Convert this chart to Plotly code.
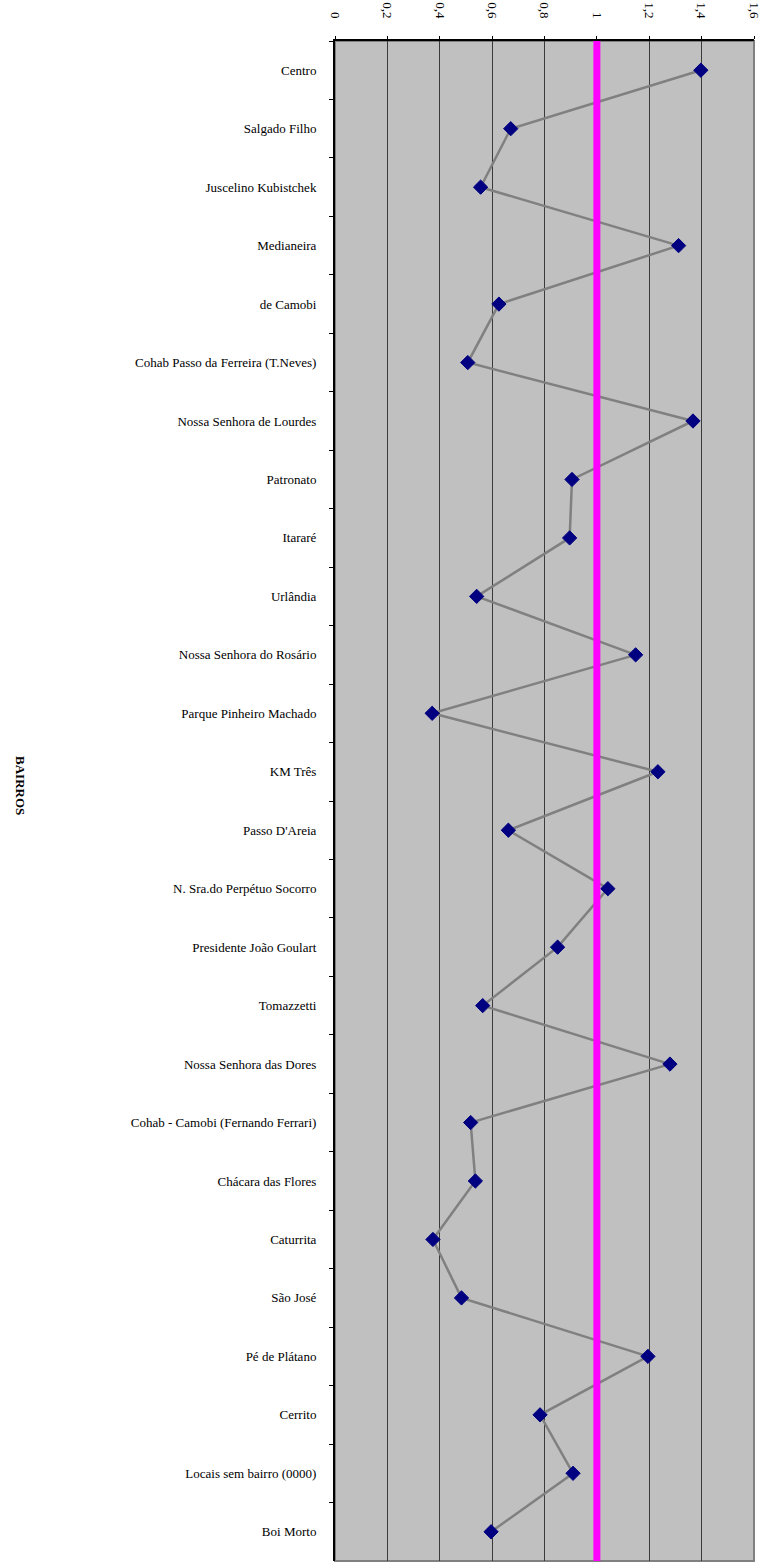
import plotly.graph_objects as go

# Neighbourhoods (bairros) in display order, top to bottom
bairros = [
    "Centro", "Salgado Filho", "Juscelino Kubistchek", "Medianeira", "de Camobi",
    "Cohab Passo da Ferreira (T.Neves)", "Nossa Senhora de Lourdes", "Patronato",
    "Itararé", "Urlândia", "Nossa Senhora do Rosário", "Parque Pinheiro Machado",
    "KM Três", "Passo D'Areia", "N. Sra.do Perpétuo Socorro", "Presidente João Goulart",
    "Tomazzetti", "Nossa Senhora das Dores", "Cohab - Camobi (Fernando Ferrari)",
    "Chácara das Flores", "Caturrita", "São José", "Pé de Plátano", "Cerrito",
    "Locais sem bairro (0000)", "Boi Morto",
]

# Index value for each neighbourhood
indice = [
    1.397, 0.671, 0.556, 1.312, 0.626,
    0.507, 1.367, 0.905,
    0.896, 0.541, 1.148, 0.371,
    1.233, 0.662, 1.042, 0.850,
    0.564, 1.279, 0.518,
    0.536, 0.374, 0.483, 1.195, 0.783,
    0.909, 0.596,
]

# Reference level and value axis ticks
referencia = 1.0
x_ticks = [0, 0.2, 0.4, 0.6, 0.8, 1.0, 1.2, 1.4, 1.6]

serif = "Liberation Serif, Times New Roman, serif"

fig = go.Figure()

fig.add_trace(go.Scatter(
    x=indice,
    y=bairros,
    mode="lines+markers",
    line=dict(color="#808080", width=2.5),
    marker=dict(symbol="diamond", size=11, color="#000080",
                line=dict(color="#000080", width=1)),
    showlegend=False,
    hoverinfo="x+y",
))

# Frame around the plot area (grey right/bottom edges)
fig.add_shape(type="rect", xref="paper", yref="paper", x0=0, x1=1, y0=0, y1=1,
              line=dict(color="#808080", width=2), layer="below")

# Reference line at 1
fig.add_shape(type="line", xref="x", yref="paper", x0=referencia, x1=referencia,
              y0=0, y1=1, line=dict(color="#FF00FF", width=7), layer="above")

# Vertical axis title
fig.add_annotation(text="<b>BAIRROS</b>", xref="paper", yref="paper",
                   x=-0.775, y=0.51, textangle=90, showarrow=False,
                   font=dict(family=serif, size=13, color="#000000"))

fig.update_layout(
    width=769, height=1564,
    margin=dict(l=335, r=15, t=41, b=3),
    paper_bgcolor="#FFFFFF",
    plot_bgcolor="#C0C0C0",
    separators=",.",
    font=dict(family=serif, size=13, color="#000000"),
    xaxis=dict(
        side="top",
        range=[0, 1.6],
        tickvals=x_ticks,
        tickangle=90,
        showgrid=True, gridcolor="#3a3a3a", gridwidth=1,
        zeroline=False,
        showline=True, linecolor="#000000", linewidth=2,
        ticks="outside", ticklen=3, tickcolor="#000000",
        ticklabelstandoff=13,
        tickfont=dict(family=serif, size=13),
        fixedrange=True,
    ),
    yaxis=dict(
        type="category",
        categoryorder="array", categoryarray=bairros,
        range=[len(bairros) - 0.5, -0.5],
        showgrid=False, zeroline=False,
        showline=True, linecolor="#000000", linewidth=2,
        ticks="outside", ticklen=4, tickcolor="#000000",
        tickson="boundaries",
        ticklabelstandoff=14,
        tickfont=dict(family=serif, size=13),
        fixedrange=True,
    ),
)

fig.write_html("out.html")
